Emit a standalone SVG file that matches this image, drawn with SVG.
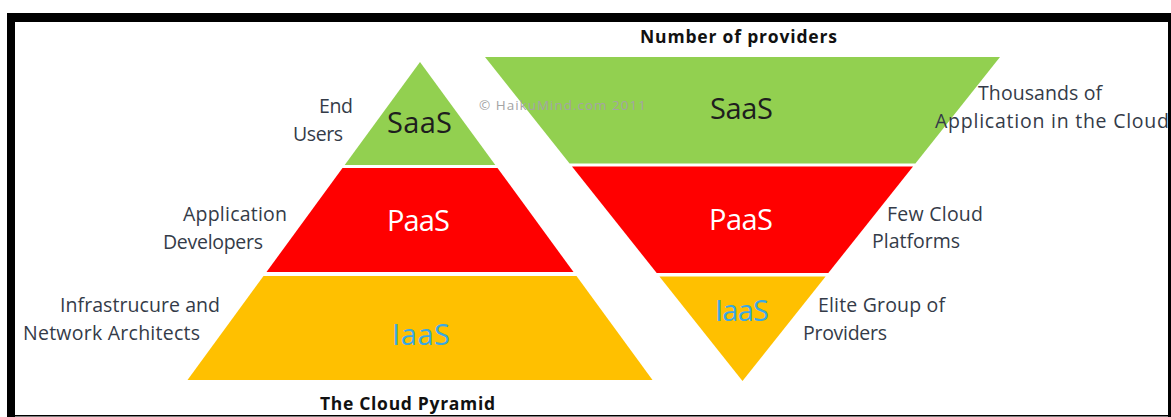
<svg xmlns="http://www.w3.org/2000/svg" width="1171" height="417" viewBox="0 0 1171 417">
  <style>
    .lbl { font-family: "Open Sans", "Liberation Sans", sans-serif; font-size: 19.5px; fill: #343b48; }
    .big { font-family: "Open Sans", "Liberation Sans", sans-serif; font-size: 29px; }
    .title { font-family: "Open Sans", "Liberation Sans", sans-serif; font-size: 17.5px; font-weight: bold; fill: #111; }
    .wm { font-family: "Open Sans", "Liberation Sans", sans-serif; font-size: 13.5px; fill: #a4a4a4; }
    .saas { fill: #92d050; }
    .paas { fill: #ff0000; }
    .iaas { fill: #ffc000; }
  </style>

  <rect x="0" y="0" width="1171" height="417" fill="#ffffff"/>

  <!-- frame -->
  <g id="frame" fill="#000">
    <rect x="7" y="13" width="1164" height="9"/>
    <rect x="7" y="13" width="8" height="404"/>
    <rect x="1168" y="13" width="3" height="404"/>
    <rect x="7" y="415" width="1164" height="1.5"/>
  </g>

  <!-- the cloud pyramid (users) -->
  <g id="pyramid">
    <g id="pyr-saas">
      <polygon class="saas" points="420,62 495.3,165 344.7,165"/>
      <text class="big" x="387" y="133" textLength="65" fill="#1e1e1e">SaaS</text>
    </g>
    <g id="pyr-paas">
      <polygon class="paas" points="342.5,168 497.5,168 573.5,272 266.5,272"/>
      <text class="big" x="387" y="231" textLength="63" fill="#ffffff">PaaS</text>
    </g>
    <g id="pyr-iaas">
      <polygon class="iaas" points="263.5,276 576.5,276 652.5,380 187.5,380"/>
      <text class="big" x="392" y="345" textLength="58" fill="#3aa8e4">IaaS</text>
    </g>
  </g>

  <!-- inverted pyramid (number of providers) -->
  <g id="providers">
    <g id="prov-saas">
      <polygon class="saas" points="485,57 1000,57 915.4,163.5 569.6,163.5"/>
      <text class="big" x="710" y="119" textLength="63" fill="#1e1e1e">SaaS</text>
    </g>
    <g id="prov-paas">
      <polygon class="paas" points="572,166.5 913,166.5 828.3,273 656.7,273"/>
      <text class="big" x="709" y="230" textLength="64" fill="#ffffff">PaaS</text>
    </g>
    <g id="prov-iaas">
      <polygon class="iaas" points="659.4,276.5 825.6,276.5 742.5,381"/>
      <text class="big" x="715" y="321" textLength="54" fill="#3aa8e4">IaaS</text>
    </g>
  </g>

  <text class="wm" x="479" y="110" textLength="167">© HaikuMind.com 2011</text>

  <!-- side labels -->
  <g id="labels">
    <text class="lbl" x="319" y="113" textLength="34">End</text>
    <text class="lbl" x="293" y="141" textLength="50">Users</text>
    <text class="lbl" x="183" y="221" textLength="104">Application</text>
    <text class="lbl" x="163" y="249" textLength="100">Developers</text>
    <text class="lbl" x="60" y="312" textLength="160">Infrastrucure and</text>
    <text class="lbl" x="23" y="340" textLength="177">Network Architects</text>
    <text class="lbl" x="978" y="100" textLength="124">Thousands of</text>
    <text class="lbl" x="935" y="128" textLength="234">Application in the Cloud</text>
    <text class="lbl" x="887" y="221" textLength="96">Few Cloud</text>
    <text class="lbl" x="872" y="248" textLength="88">Platforms</text>
    <text class="lbl" x="818" y="312" textLength="127">Elite Group of</text>
    <text class="lbl" x="803" y="340" textLength="84">Providers</text>
  </g>

  <!-- captions -->
  <text class="title" x="640" y="43" textLength="197">Number of providers</text>
  <text class="title" x="320" y="410" textLength="175">The Cloud Pyramid</text>
</svg>
